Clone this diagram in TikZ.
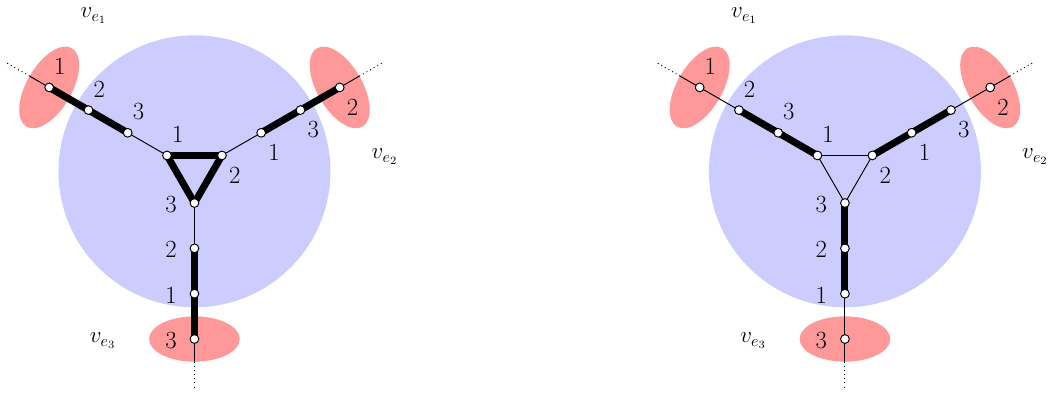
\documentclass[tikz,border=0pt]{standalone}
\usepackage{amsmath}
\pgfdeclarelayer{bg}
\pgfsetlayers{bg,main}
\begin{document}
\begin{tikzpicture}[
  vtx/.style={circle, draw, fill=white, inner sep=0pt, minimum size=5.5pt, line width=0.6pt},
  thinedge/.style={line width=0.6pt},
  thickedge/.style={line width=4.4pt},
  num/.style={font=\fontsize{15.5}{18}\selectfont, inner sep=1pt},
  vlab/.style={font=\fontsize{14.5}{18}\selectfont},
  disk/.style={fill=blue!20},
  blob/.style={fill=red!40},
]
\useasboundingbox (-4.29,-4.869) rectangle (18.94,3.779);

\foreach \dx/\p/\tri/\ea/\eb/\ec in {0/L/thickedge/thinedge/thickedge/thickedge, 14.35/R/thinedge/thickedge/thickedge/thinedge} {
 \begin{scope}[xshift=\dx cm]
  \begin{pgfonlayer}{bg}
    \fill[disk] (0,0) circle (3);
    \foreach \k in {1,2,3} {
      \pgfmathsetmacro\ang{150-120*(\k-1)}
      \fill[blob, rotate=\ang] (3.7,0) ellipse (0.5 and 1);
    }
  \end{pgfonlayer}
  \foreach \k in {1,2,3} {
    \pgfmathsetmacro\ang{150-120*(\k-1)}
    \foreach \i in {0,1,2,3} {
      \pgfmathtruncatemacro\lab{mod(\k-\i-1+6,3)+1}
      \node[vtx] (\p-\k-\i) at (\ang:{0.7+\i}) {};
      \path (\ang:{0.7+\i}) ++(\ang-87:0.52) node[num] (\p-\k-\i-lab) {\lab};
    }
    \coordinate (\p-\k-s) at (\ang:4.2);
    \coordinate (\p-\k-d) at (\ang:4.8);
    \begin{pgfonlayer}{bg}
      \draw[\ea] (\p-\k-0.center) -- (\p-\k-1.center);
      \draw[\eb] (\p-\k-1.center) -- (\p-\k-2.center);
      \draw[\ec] (\p-\k-2.center) -- (\p-\k-3.center);
      \draw[thinedge] (\p-\k-3.center) -- (\p-\k-s);
      \draw[thinedge, dotted] (\p-\k-s) -- (\p-\k-d);
    \end{pgfonlayer}
  }
  \begin{pgfonlayer}{bg}
    \draw[\tri] (\p-1-0.center) -- (\p-2-0.center);
    \draw[\tri] (\p-2-0.center) -- (\p-3-0.center);
    \draw[\tri] (\p-3-0.center) -- (\p-1-0.center);
  \end{pgfonlayer}
  \node[vlab] (\p-v1) at (-2.22,3.43) {$v_{e_1}$};
  \node[vlab] (\p-v2) at (4.20,0.32) {$v_{e_2}$};
  \node[vlab] (\p-v3) at (-2.02,-3.74) {$v_{e_3}$};
 \end{scope}
}
\end{tikzpicture}
\end{document}
